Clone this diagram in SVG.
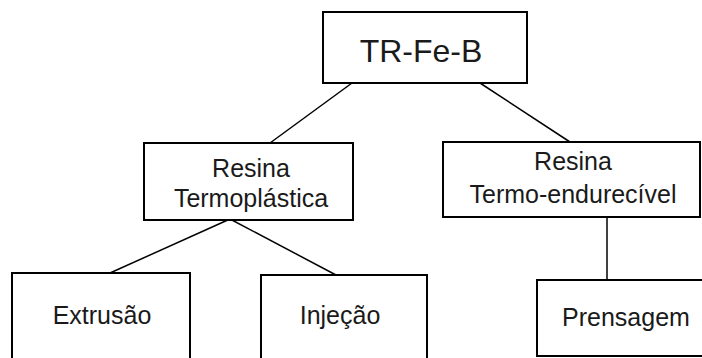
<svg xmlns="http://www.w3.org/2000/svg" width="702" height="358" viewBox="0 0 702 358">
<style>
.box{fill:#fff;stroke:#000;stroke-width:2}
.lbl{font-family:"Liberation Sans",Arial,sans-serif;font-size:25px;fill:#1a1a1a;text-anchor:middle}
.big{font-size:32px}
.con line{stroke:#000;stroke-width:1.5}
</style>
<rect width="702" height="358" fill="#fff"/>
<g class="con" id="connectors">
<line x1="352" y1="83" x2="270" y2="143"/>
<line x1="480" y1="83" x2="570" y2="142"/>
<line x1="230" y1="219" x2="110" y2="273"/>
<line x1="230" y1="219" x2="336" y2="275"/>
<line x1="607" y1="217" x2="607" y2="280"/>
</g>
<g id="n-trfeb">
<rect class="box" x="323" y="12" width="204" height="71"/>
<text class="lbl big" x="421" y="62">TR-Fe-B</text>
</g>
<g id="n-termoplastica">
<rect class="box" x="144" y="143" width="209" height="77"/>
<text class="lbl" x="251" y="177">Resina</text>
<text class="lbl" x="251" y="207">Termoplástica</text>
</g>
<g id="n-termoendurecivel">
<rect class="box" x="443" y="142" width="257" height="75"/>
<text class="lbl" x="573" y="170">Resina</text>
<text class="lbl" x="573" y="203">Termo-endurecível</text>
</g>
<g id="n-extrusao">
<rect class="box" x="12" y="273" width="178" height="100"/>
<text class="lbl" x="102" y="324">Extrusão</text>
</g>
<g id="n-injecao">
<rect class="box" x="261" y="275" width="166" height="100"/>
<text class="lbl" x="340" y="324">Injeção</text>
</g>
<g id="n-prensagem">
<rect class="box" x="537" y="280" width="180" height="76"/>
<text class="lbl" x="626" y="326">Prensagem</text>
</g>
</svg>
